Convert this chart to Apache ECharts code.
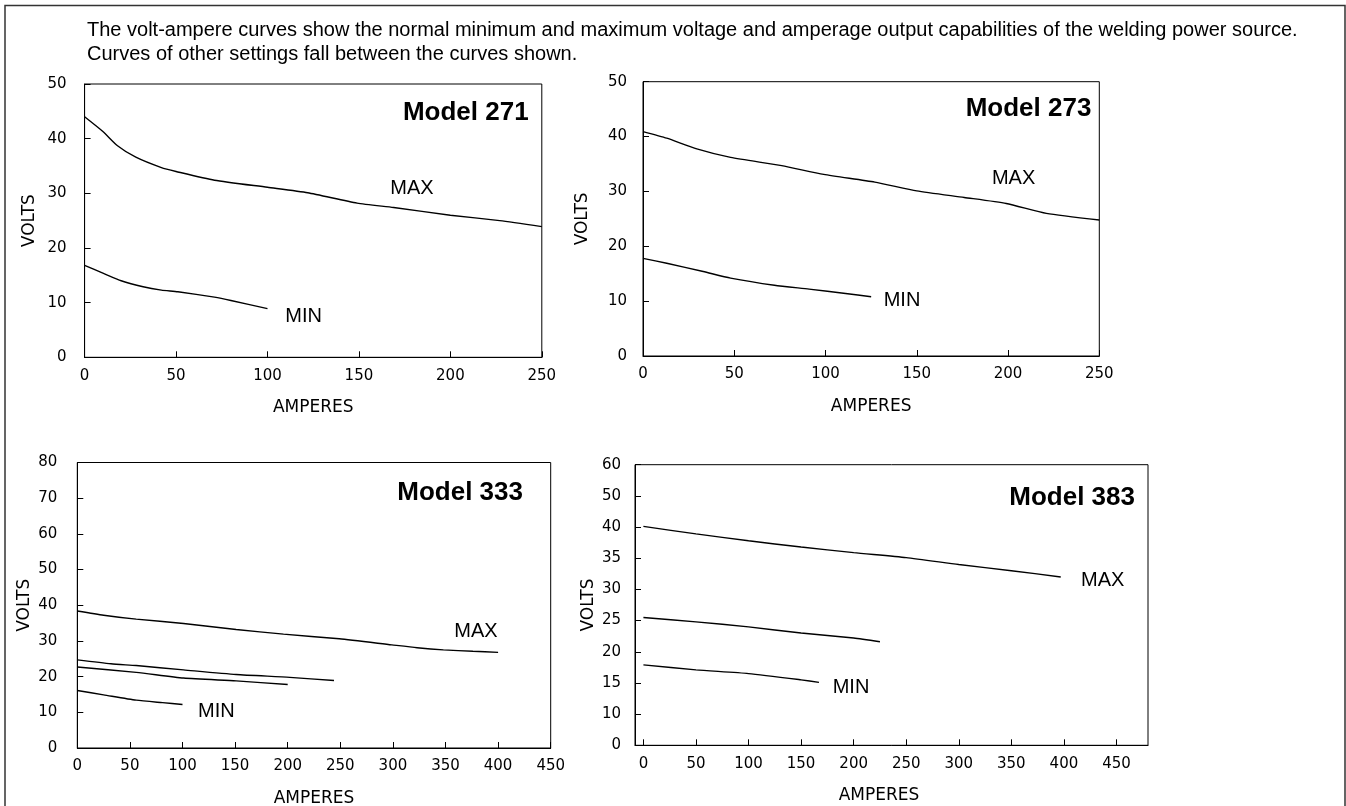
<!DOCTYPE html>
<html>
<head>
<meta charset="utf-8">
<script src="https://cdn.jsdelivr.net/npm/echarts@6/dist/echarts.min.js"></script>
<style>
html,body{margin:0;padding:0;background:#fff;}
#main{width:1346px;height:806px;}
</style>
</head>
<body>
<div id="main"></div>
<script>
// ---------- text ----------
const headerLines = [
  'The volt-ampere curves show the normal minimum and maximum voltage and amperage output capabilities of the welding power source.',
  'Curves of other settings fall between the curves shown.'
];
const modelNames = ['Model 271', 'Model 273', 'Model 333', 'Model 383'];

// ---------- Model 271 ----------
const amps271Max  = [0, 10, 18, 28, 42, 50, 71, 100, 122, 149, 169, 200, 227, 250];
const volts271Max = [44.0, 41.3, 38.7, 36.6, 34.7, 34.0, 32.4, 31.1, 30.1, 28.2, 27.4, 26.0, 25.0, 23.9];
const amps271Min  = [0, 10, 20, 32, 42, 51, 71, 80, 100];
const volts271Min = [16.8, 15.4, 14.0, 12.9, 12.3, 12.0, 11.0, 10.4, 8.9];

// ---------- Model 273 ----------
const amps273Max  = [0, 13, 29, 48, 76, 99, 127, 150, 176, 199, 221, 250];
const volts273Max = [40.9, 39.7, 37.8, 36.2, 34.7, 33.1, 31.7, 30.1, 28.9, 27.8, 26.0, 24.8];
const amps273Min  = [0, 13, 33, 48, 72, 91, 111, 125];
const volts273Min = [17.8, 16.9, 15.4, 14.2, 12.9, 12.2, 11.4, 10.8];

// ---------- Model 333 ----------
const amps333Max   = [0, 25, 56, 101, 151, 196, 249, 299, 323, 348, 376, 400];
const volts333Max  = [38.4, 37.2, 36.1, 34.9, 33.2, 31.9, 30.6, 28.9, 28.1, 27.5, 27.1, 26.8];
const amps333Mid1  = [0, 32, 56, 101, 151, 202, 244];
const volts333Mid1 = [24.7, 23.6, 23.1, 21.9, 20.6, 19.8, 18.9];
const amps333Mid2  = [0, 56, 101, 151, 200];
const volts333Mid2 = [22.7, 21.2, 19.6, 18.8, 17.8];
const amps333Min   = [0, 25, 56, 81, 100];
const volts333Min  = [16.1, 14.9, 13.4, 12.7, 12.2];

// ---------- Model 383 ----------
const amps383Max  = [0, 50, 100, 150, 200, 250, 300, 350, 397];
const volts383Max = [40.1, 38.9, 37.8, 36.8, 35.9, 35.1, 34.0, 33.0, 32.0];
const amps383Mid  = [0, 50, 100, 150, 200, 225];
const volts383Mid = [25.5, 24.8, 24.0, 23.0, 22.2, 21.6];
const amps383Min  = [0, 50, 100, 150, 167];
const volts383Min = [17.9, 17.1, 16.5, 15.5, 15.1];

// tick labels
const xTicks383 = [0, 50, 100, 150, 200, 250, 300, 350, 400, 450];
const yTickLabels383 = ['0', '10', '15', '20', '25', '30', '35', '40', '50', '60']; // evenly spaced as printed

const zip = (a, b) => a.map((v, i) => [v, b[i]]);

const tickFont = { fontFamily: 'DejaVu Sans', fontSize: 15, color: '#000' };
const nameFont = { fontFamily: 'DejaVu Sans', fontSize: 17, color: '#000' };

function xAx(idx, min, max, extra) {
  return Object.assign({
    type: 'value', gridIndex: idx, min: min, max: max, interval: 50,
    name: 'AMPERES', nameLocation: 'middle', nameGap: 42, nameTextStyle: Object.assign({}, nameFont),
    axisLine: { onZero: false, lineStyle: { color: '#000', width: 1 } },
    axisTick: { inside: true, length: 6, lineStyle: { color: '#000' } },
    axisLabel: Object.assign({ margin: 11 }, tickFont),
    splitLine: { show: false }
  }, extra || {});
}
function yAx(idx, min, max, interval, gap, margin, extra) {
  return Object.assign({
    type: 'value', gridIndex: idx, min: min, max: max, interval: interval,
    name: 'VOLTS', nameLocation: 'middle', nameGap: gap, nameTextStyle: Object.assign({}, nameFont),
    axisLine: { onZero: false, lineStyle: { color: '#000', width: 1 } },
    axisTick: { inside: true, length: 6, lineStyle: { color: '#000' } },
    axisLabel: Object.assign({ margin: margin }, tickFont),
    splitLine: { show: false }
  }, extra || {});
}
function line(idx, a, v) {
  return {
    type: 'line', xAxisIndex: idx, yAxisIndex: idx, data: zip(a, v),
    symbol: 'none', smooth: 0.2, silent: true,
    lineStyle: { color: '#000', width: 1.4 }
  };
}
const gridBase = { show: true, borderColor: '#000', borderWidth: 1, backgroundColor: 'transparent', containLabel: false, outerBoundsMode: 'none' };

function txt(x, y, text, size, bold, align) {
  return {
    type: 'text', x: x, y: y, silent: true,
    style: {
      text: text, fill: '#000', align: align || 'center', verticalAlign: 'middle',
      font: (bold ? 'bold ' : '') + size + 'px "Liberation Sans", Arial, sans-serif'
    }
  };
}

const option = {
  animation: false,
  backgroundColor: '#fff',
  grid: [
    Object.assign({ left: 84.6, top: 84, width: 457.2, height: 273.3 }, gridBase),
    Object.assign({ left: 643, top: 81.7, width: 456.3, height: 274.3 }, gridBase),
    Object.assign({ left: 77.3, top: 462.5, width: 473.4, height: 285.5 }, gridBase),
    Object.assign({ left: 635, top: 464.7, width: 513, height: 280.6 }, gridBase)
  ],
  xAxis: [
    xAx(0, 0, 250),
    xAx(1, 0, 250),
    xAx(2, 0, 450),
    xAx(3, -8, 480, {
      axisTick: { inside: true, length: 6, lineStyle: { color: '#000' }, customValues: xTicks383 },
      axisLabel: Object.assign({ margin: 11, customValues: xTicks383 }, tickFont),
      nameTextStyle: Object.assign({ padding: [0, 25, 0, 0] }, nameFont)
    })
  ],
  yAxis: [
    yAx(0, 0, 50, 10, 47, 18),
    yAx(1, 0, 50, 10, 52, 16),
    yAx(2, 0, 80, 10, 44, 20),
    yAx(3, 5, 50, 5, 38, 14, {
      axisLabel: Object.assign({ margin: 14, formatter: v => yTickLabels383[Math.round((v - 5) / 5)] }, tickFont)
    })
  ],
  series: [
    line(0, amps271Max, volts271Max),
    line(0, amps271Min, volts271Min),
    line(1, amps273Max, volts273Max),
    line(1, amps273Min, volts273Min),
    line(2, amps333Max, volts333Max),
    line(2, amps333Mid1, volts333Mid1),
    line(2, amps333Mid2, volts333Mid2),
    line(2, amps333Min, volts333Min),
    line(3, amps383Max, volts383Max),
    line(3, amps383Mid, volts383Mid),
    line(3, amps383Min, volts383Min)
  ],
  graphic: [
    { type: 'polyline', silent: true, shape: { points: [[5, 812], [5, 5.5], [1345, 5.5], [1345, 812]] },
      style: { stroke: '#333', lineWidth: 1.5, fill: null } },
    txt(87, 30, headerLines[0], 20, false, 'left'),
    txt(87, 54, headerLines[1], 20, false, 'left'),
    txt(528.6, 113, modelNames[0], 26, true, 'right'),
    txt(412, 188, 'MAX', 20),
    txt(303.6, 316.7, 'MIN', 20),
    txt(1091.4, 109.3, modelNames[1], 26, true, 'right'),
    txt(1013.6, 178.3, 'MAX', 20),
    txt(902, 300, 'MIN', 20),
    txt(523, 492.7, modelNames[2], 26, true, 'right'),
    txt(476, 631.7, 'MAX', 20),
    txt(216.4, 711, 'MIN', 20),
    txt(1135, 498.3, modelNames[3], 26, true, 'right'),
    txt(1102.7, 580, 'MAX', 20),
    txt(851, 687.3, 'MIN', 20)
  ]
};

const chart = echarts.init(document.getElementById('main'), null, { renderer: 'canvas' });
chart.setOption(option);
</script>
</body>
</html>
